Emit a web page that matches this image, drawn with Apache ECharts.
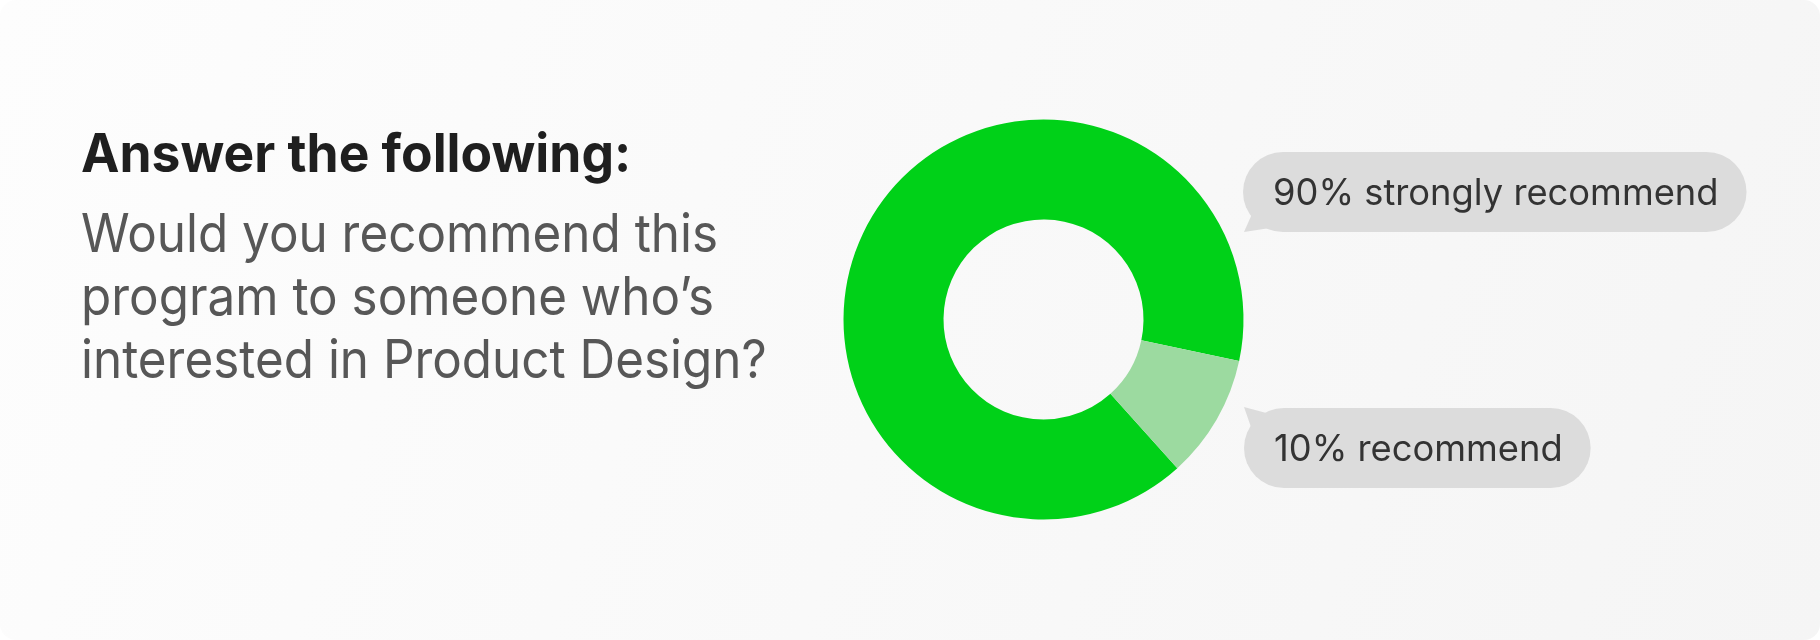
<!DOCTYPE html>
<html>
<head>
<meta charset="utf-8">
<style>
  html, body { margin: 0; padding: 0; background: #ffffff; }
  #chart { width: 1820px; height: 640px; }
</style>
<script src="https://cdn.jsdelivr.net/npm/echarts@6/dist/echarts.min.js"></script>
</head>
<body>
<div id="chart"></div>
<script>
// ---- data ----
const categories = ['strongly recommend', 'recommend'];
const values = [90, 10];
const titleText = 'Answer the following:';
const questionLines = [
  'Would you recommend this',
  'program to someone who\u2019s',
  'interested in Product Design?'
];

// ---- styles ----
const sliceColors = ['#00D118', '#9CDAA0'];
const bubbleColor = '#DCDCDC';
const FONT = 'Inter, "Noto Sans", sans-serif';
const bubbleAnchors = [[1243, 152], [1244, 408]];

const chart = echarts.init(document.getElementById('chart'), null, { renderer: 'canvas' });

chart.setOption({
  animation: false,
  backgroundColor: '#ffffff',
  graphic: [
    {
      type: 'rect', z: -10, silent: true,
      shape: { x: 0, y: 0, width: 1820, height: 640, r: 16 },
      style: {
        fill: new echarts.graphic.LinearGradient(0, 0, 1, 1, [
          { offset: 0, color: '#FDFDFD' },
          { offset: 1, color: '#F5F5F5' }
        ])
      }
    },
    {
      type: 'text', x: 81, y: 129.5, scaleX: 0.973, silent: true,
      style: {
        x: 0, y: 0, text: titleText, fill: '#1F1F1F',
        font: 'bold 53px ' + FONT, lineHeight: 53,
        align: 'left', verticalAlign: 'top'
      }
    },
    {
      type: 'text', x: 81, y: 204.5, scaleX: 0.932, silent: true,
      style: {
        x: 0, y: 0, text: questionLines.join('\n'), fill: '#575757',
        font: '53px ' + FONT, lineHeight: 63,
        align: 'left', verticalAlign: 'top'
      }
    },
    {
      type: 'polygon', silent: true, z: 1,
      shape: { points: [[1244, 232], [1252, 214], [1270, 228]] },
      style: { fill: bubbleColor }
    },
    {
      type: 'polygon', silent: true, z: 1,
      shape: { points: [[1244, 407], [1252, 430], [1270, 414]] },
      style: { fill: bubbleColor }
    }
  ],
  series: [{
    type: 'pie',
    center: [1043.5, 319.5],
    radius: [100, 200],
    startAngle: 312,
    clockwise: true,
    avoidLabelOverlap: false,
    silent: true,
    emphasis: { disabled: true },
    itemStyle: { borderWidth: 0 },
    label: {
      show: true,
      position: 'outside',
      formatter: '{c}% {b}',
      color: '#333333',
      fontFamily: FONT,
      fontSize: 36.3,
      lineHeight: 40,
      backgroundColor: bubbleColor,
      borderRadius: 40,
      padding: [22, 28, 18, 30]
    },
    labelLine: { show: false },
    labelLayout: function (params) {
      const a = bubbleAnchors[params.dataIndex];
      return { x: a[0], y: a[1], align: 'left', verticalAlign: 'top', hideOverlap: false };
    },
    data: categories.map((c, i) => ({
      name: c, value: values[i], itemStyle: { color: sliceColors[i] }
    }))
  }]
});
</script>
</body>
</html>
